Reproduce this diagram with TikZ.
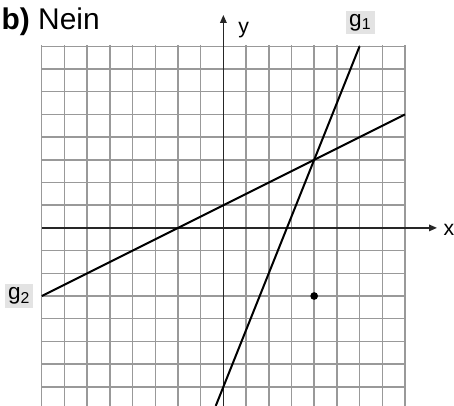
\documentclass[tikz,border=0pt]{standalone}
\usepackage{fontspec}
\setmainfont{Liberation Sans}
\usetikzlibrary{arrows.meta}
\begin{document}
\begin{tikzpicture}[x=0.6cm,y=0.6cm,
  gridline/.style={gray!80,line width=1.1pt},
  axis/.style={black!85,line width=0.9pt,-{Triangle[length=6pt,width=5pt]}},
  graph/.style={black,line width=1.5pt},
  glabel/.style={fill=gray!22,inner sep=2.5pt,font=\fontsize{17}{19}\selectfont},
  axlabel/.style={font=\fontsize{16}{18}\selectfont}]
\useasboundingbox (-9.84,-7.84) rectangle (10.16,10.04);
% grid
\foreach \i in {-8,...,8} \draw[gridline] (\i,-7.9) -- (\i,8.05);
\foreach \j in {-7,...,8} \draw[gridline] (-8,\j) -- (8,\j);
% axes
\coordinate (xs) at (-8,0); \coordinate (xe) at (9.41,0);
\coordinate (ys) at (0,-7.9); \coordinate (ye) at (0,9.38);
\draw[axis] (xs) -- (xe);
\draw[axis] (ys) -- (ye);
\node[axlabel,anchor=base west] (lbly) at (0.45,8.55) {y};
\node[axlabel,anchor=west] (lblx) at (9.5,-0.1) {x};
% graphs
\coordinate (g1a) at (-0.336,-7.84); \coordinate (g1b) at (6,8);
\coordinate (g2a) at (-8,-3); \coordinate (g2b) at (8,5);
\draw[graph] (g1a) -- (g1b);
\draw[graph] (g2a) -- (g2b);
\node[glabel] (g1lab) at (6.03,9.05) {g\textsubscript{1}};
\node[glabel] (g2lab) at (-9.0,-3.0) {g\textsubscript{2}};
% point
\fill (4,-3) circle (0.17) coordinate (pt);
% title
\node[anchor=base west,inner sep=0pt,font=\fontsize{22.5}{25}\selectfont] (title) at (-9.78,8.72) {\textbf{b)}\ Nein};
\end{tikzpicture}
\end{document}
